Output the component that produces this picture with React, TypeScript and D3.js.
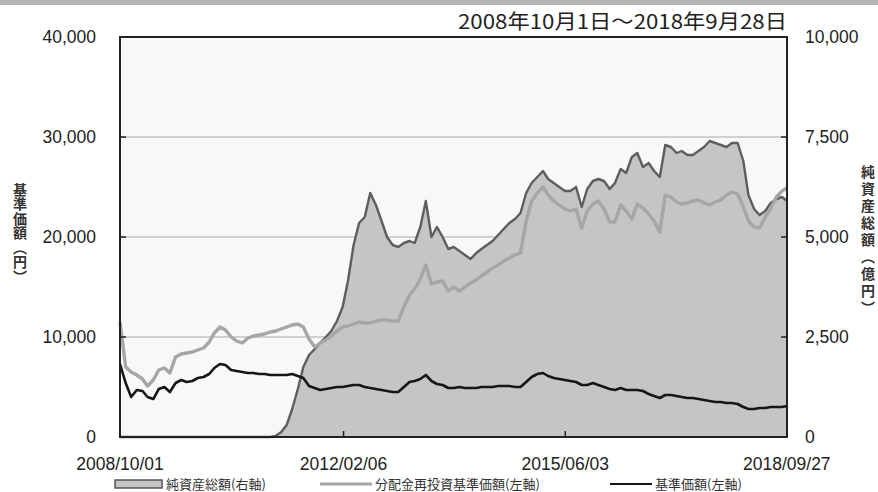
import React from 'react';
import * as d3 from 'd3';

// ---- data ----
const startDate = new Date(2008, 9, 1);
const endDate = new Date(2018, 8, 28);
const monthDates: Date[] = d3.timeMonth.range(startDate, new Date(2018, 9, 1));
const dates: Date[] = [...monthDates, endDate];

// 純資産総額 (億円, right axis)
const netAssets = [
  0, 0, 0, 0, 0, 0, 0, 0, 0, 0,
  0, 0, 0, 0, 0, 0, 0, 0, 0, 0,
  0, 0, 0, 0, 0, 0, 0, 0, 30, 120,
  300, 700, 1200, 1750, 2050, 2200, 2350, 2500, 2650, 2900,
  3250, 3900, 4800, 5350, 5500, 6100, 5800, 5400, 5000, 4800,
  4750, 4850, 4900, 4850, 5250, 5900, 5000, 5250, 5000, 4700,
  4750, 4650, 4550, 4450, 4600, 4700, 4800, 4900, 5050, 5200,
  5350, 5450, 5600, 6100, 6350, 6500, 6650, 6450, 6350, 6250,
  6150, 6150, 6250, 5750, 6200, 6400, 6450, 6400, 6200, 6350,
  6700, 6600, 7000, 7100, 6750, 6850, 6650, 6500, 7300, 7250,
  7100, 7150, 7050, 7050, 7150, 7250, 7400, 7350, 7300, 7250,
  7350, 7350, 6900, 6050, 5700, 5550, 5650, 5850, 5950, 6000,
  5900,
];

// 分配金再投資基準価額 (円, left axis)
const reinvestedNav = [
  11500, 7000, 6500, 6200, 5800, 5100, 5700, 6700, 6900, 6400,
  8000, 8300, 8400, 8500, 8700, 8900, 9500, 10400, 11000, 10700,
  10000, 9600, 9400, 9900, 10100, 10200, 10300, 10500, 10600, 10800,
  11000, 11200, 11300, 11000, 9800, 9000, 9400, 9700, 10100, 10600,
  11000, 11100, 11300, 11500, 11400, 11400, 11600, 11700, 11700, 11600,
  11600, 13000, 14200, 14800, 15800, 17200, 15300, 15500, 15600, 14600,
  15000, 14600, 15000, 15400, 15700, 16100, 16500, 16900, 17200, 17600,
  17900, 18200, 18400, 21600, 23600, 24400, 25000, 24200, 23600, 23200,
  22800, 22600, 22800, 20900, 22600, 23300, 23600, 22800, 21500, 21500,
  23200, 22600, 21800, 23300, 22900, 22300, 21600, 20500, 24200, 24000,
  23500, 23300, 23400, 23600, 23700, 23400, 23200, 23500, 23700, 24200,
  24500, 24300, 23000, 21600, 21000, 20900, 22000, 22900, 24000, 24600,
  24900,
];

// 基準価額 (円, left axis)
const nav = [
  7300, 5400, 4000, 4700, 4600, 4000, 3800, 4800, 5000, 4500,
  5400, 5700, 5500, 5600, 5900, 6000, 6300, 6900, 7300, 7200,
  6700, 6600, 6500, 6400, 6400, 6300, 6300, 6200, 6200, 6200,
  6200, 6300, 6100, 5900, 5100, 4900, 4700, 4800, 4900, 5000,
  5000, 5100, 5200, 5200, 5000, 4900, 4800, 4700, 4600, 4500,
  4500, 5000, 5500, 5600, 5800, 6200, 5600, 5300, 5200, 4900,
  4900, 5000, 4900, 4900, 4900, 5000, 5000, 5000, 5100, 5100,
  5100, 5000, 5000, 5500, 6000, 6300, 6400, 6100, 5900, 5800,
  5700, 5600, 5500, 5200, 5200, 5400, 5200, 5000, 4800, 4700,
  4900, 4700, 4700, 4700, 4600, 4300, 4100, 3900, 4200, 4200,
  4100, 4000, 3900, 3900, 3800, 3700, 3600, 3500, 3500, 3400,
  3400, 3300, 3000, 2800, 2800, 2900, 2900, 3000, 3000, 3000,
  3100,
];

const leftTicks = [0, 10000, 20000, 30000, 40000];
const rightTicks = [0, 2500, 5000, 7500, 10000];
const gridValues = [10000, 20000, 30000];
const xTickLabels = ['2008/10/01', '2012/02/06', '2015/06/03', '2018/09/27'];
const titleText = '2008年10月1日～2018年9月28日';
const leftAxisTitle = '基準価額（円）';
const rightAxisTitle = '純資産総額（億円）';
const legendLabels = ['純資産総額(右軸)', '分配金再投資基準価額(左軸)', '基準価額(左軸)'];

// ---- layout ----
const W = 878;
const H = 492;
const PL = 120;
const PR = 787;
const PT = 37;
const PB = 437;

const NUM_FONT = '"Liberation Sans", Arial, sans-serif';
const CJK_FONT = '"Noto Sans CJK JP", "Noto Sans", sans-serif';

export default function App() {
  const x = d3.scaleTime().domain([startDate, endDate]).range([PL, PR]);
  const yL = d3.scaleLinear().domain([0, 40000]).range([PB, PT]);
  const yR = d3.scaleLinear().domain([0, 10000]).range([PB, PT]);
  const parse = d3.timeParse('%Y/%m/%d');
  const fmt = d3.format(',');

  const idx = d3.range(dates.length);
  const area = d3
    .area<number>()
    .x((i) => x(dates[i]))
    .y0(PB)
    .y1((i) => yR(netAssets[i]))(idx) as string;
  const netLine = d3
    .line<number>()
    .x((i) => x(dates[i]))
    .y((i) => yR(netAssets[i]))(idx) as string;
  const reinvLine = d3
    .line<number>()
    .x((i) => x(dates[i]))
    .y((i) => yL(reinvestedNav[i]))(idx) as string;
  const navLine = d3
    .line<number>()
    .x((i) => x(dates[i]))
    .y((i) => yL(nav[i]))(idx) as string;

  const legendY = 484;

  return (
    <svg
      width={W}
      height={H}
      style={{ position: 'absolute', left: 0, top: 0, background: '#ffffff' }}
    >
      <rect x={0} y={0} width={W} height={5} fill="#b4b4b4" />
      <text
        x={PR}
        y={29}
        textAnchor="end"
        fontFamily={CJK_FONT}
        fontSize={20}
        textLength={329}
        lengthAdjust="spacingAndGlyphs"
        fill="#222"
      >
        {titleText}
      </text>

      <rect x={PL} y={PT} width={PR - PL} height={PB - PT} fill="#f8f8f8" />
      {gridValues.map((v) => (
        <line key={v} x1={PL} x2={PR} y1={yL(v)} y2={yL(v)} stroke="#a8a8a8" strokeWidth={1.2} />
      ))}

      <path d={area} fill="#c5c5c5" />
      <path d={netLine} fill="none" stroke="#5e5e5e" strokeWidth={2.4} strokeLinejoin="round" />
      <path d={reinvLine} fill="none" stroke="#a6a6a6" strokeWidth={3.4} strokeLinejoin="round" />
      <path d={navLine} fill="none" stroke="#161616" strokeWidth={2.6} strokeLinejoin="round" />

      <rect x={PL} y={PT} width={PR - PL} height={PB - PT} fill="none" stroke="#222" strokeWidth={2} />

      {/* ticks */}
      {gridValues.map((v) => (
        <g key={'t' + v}>
          <line x1={PL} x2={PL + 6} y1={yL(v)} y2={yL(v)} stroke="#222" strokeWidth={1.5} />
          <line x1={PR - 6} x2={PR} y1={yL(v)} y2={yL(v)} stroke="#222" strokeWidth={1.5} />
        </g>
      ))}
      {xTickLabels.slice(1, 3).map((s) => (
        <line key={'xt' + s} x1={x(parse(s)!)} x2={x(parse(s)!)} y1={PB - 6} y2={PB} stroke="#222" strokeWidth={1.5} />
      ))}

      {/* left axis labels */}
      {leftTicks.map((v) => (
        <text key={'l' + v} x={96} y={yL(v)} dy="0.36em" textAnchor="end" fontFamily={NUM_FONT} fontSize={17.5} fill="#222">
          {fmt(v)}
        </text>
      ))}
      {/* right axis labels */}
      {rightTicks.map((v) => (
        <text key={'r' + v} x={805} y={yR(v)} dy="0.36em" textAnchor="start" fontFamily={NUM_FONT} fontSize={17.5} fill="#222">
          {fmt(v)}
        </text>
      ))}
      {/* x axis labels */}
      {xTickLabels.map((s) => (
        <text key={'x' + s} x={x(parse(s)!)} y={470} textAnchor="middle" fontFamily={NUM_FONT} fontSize={17.5} fill="#222">
          {s}
        </text>
      ))}

      {/* axis titles */}
      <text
        x={20}
        y={233}
        textAnchor="middle"
        fontFamily={CJK_FONT}
        fontSize={14}
        letterSpacing={0.5}
        fontWeight={700}
        fill="#333"
        style={{ writingMode: 'vertical-rl' } as any}
      >
        {leftAxisTitle}
      </text>
      <text
        x={868}
        y={241}
        textAnchor="middle"
        fontFamily={CJK_FONT}
        fontSize={14}
        letterSpacing={3}
        fontWeight={700}
        fill="#333"
        style={{ writingMode: 'vertical-rl' } as any}
      >
        {rightAxisTitle}
      </text>

      {/* legend */}
      <rect x={115} y={legendY - 4} width={47} height={8} fill="#c5c5c5" stroke="#555" strokeWidth={1.5} />
      <text x={166} y={legendY} dy="0.36em" fontFamily={CJK_FONT} fontSize={13} fill="#333">
        {legendLabels[0]}
      </text>
      <line x1={320} x2={372} y1={legendY} y2={legendY} stroke="#a6a6a6" strokeWidth={3.2} />
      <text x={375} y={legendY} dy="0.36em" fontFamily={CJK_FONT} fontSize={13} fill="#333">
        {legendLabels[1]}
      </text>
      <line x1={610} x2={652} y1={legendY} y2={legendY} stroke="#161616" strokeWidth={2.2} />
      <text x={655} y={legendY} dy="0.36em" fontFamily={CJK_FONT} fontSize={13} fill="#333">
        {legendLabels[2]}
      </text>
    </svg>
  );
}
